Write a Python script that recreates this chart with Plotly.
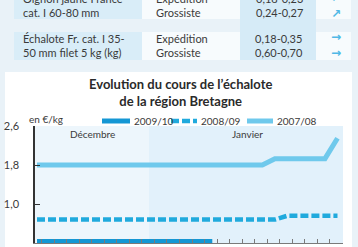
import plotly.graph_objects as go

# ---------------- data ----------------
products = ["Oignon jaune France<br>cat. I 60-80 mm",
            "Échalote Fr. cat. I 35-<br>50 mm filet 5 kg (kg)"]
stages = ["Expédition<br>Grossiste", "Expédition<br>Grossiste"]
prices = ["0,18-0,23<br>0,24-0,27", "0,18-0,35<br>0,60-0,70"]
trends = ["↗<br>↗", "→<br>→"]

series_names = ["2009/10", "2008/09", "2007/08"]
days_0910 = [0, 1, 2, 3, 4, 5, 6, 7, 8, 9, 10, 11, 12, 13, 14]
vals_0910 = [0.23, 0.23, 0.23, 0.23, 0.23, 0.23, 0.23, 0.23, 0.23, 0.23,
             0.23, 0.23, 0.23, 0.23, 0.23]
days_0809 = [0, 1, 2, 3, 4, 5, 6, 7, 8, 9, 10, 11, 12, 13, 14, 15, 16, 17,
             18, 19, 20, 21, 22, 23, 24]
vals_0809 = [0.68, 0.68, 0.68, 0.68, 0.68, 0.68, 0.68, 0.68, 0.68, 0.68,
             0.68, 0.68, 0.68, 0.68, 0.68, 0.68, 0.68, 0.68, 0.68, 0.68,
             0.76, 0.76, 0.76, 0.76, 0.76]
days_0708 = [0, 1, 2, 3, 4, 5, 6, 7, 8, 9, 10, 11, 12, 13, 14, 15, 16, 17,
             18, 19, 20, 21, 22, 23, 24]
vals_0708 = [1.8, 1.8, 1.8, 1.8, 1.8, 1.8, 1.8, 1.8, 1.8, 1.8,
             1.8, 1.8, 1.8, 1.8, 1.8, 1.8, 1.8, 1.8, 1.8, 1.93,
             1.93, 1.93, 1.93, 1.93, 2.35]
month_labels = ["Décembre", "Janvier"]
month_starts = [-0.16, 8.95]
x_end = 24.44
y_ticks = [0.2, 1.0, 1.8, 2.6]

# ---------------- geometry helpers ----------------
W, H = 358, 247
L, R, T, B = 35, 15, 126, 4
PW, PH = W - L - R, H - T - B


def px(x):
    return (x - L) / PW


def py(y):
    return (H - B - y) / PH


FONT = "Lato, 'Open Sans', sans-serif"
TXT = "#3a3a3a"

fig = go.Figure()

colors = ["#1597d4", "#20aadd", "#6fc9ec"]
widths = [5, 4.5, 5]
dashes = ["solid", "8px,3px", "solid"]
xs = [days_0910, days_0809, days_0708]
ys = [vals_0910, vals_0809, vals_0708]
for i in range(3):
    fig.add_trace(go.Scatter(
        x=xs[i], y=ys[i], mode="lines", name=series_names[i],
        line=dict(color=colors[i], width=widths[i], dash=dashes[i]),
        showlegend=False, hoverinfo="skip"))

shapes = []
# white chart panel
shapes.append(dict(type="rect", xref="paper", yref="paper", layer="below",
                   x0=px(5), x1=px(352), y0=py(72), y1=py(260),
                   fillcolor="#ffffff", line=dict(width=0)))
# plot background (January tone)
shapes.append(dict(type="rect", xref="paper", yref="paper", layer="below",
                   x0=0, x1=1, y0=0, y1=1,
                   fillcolor="#e2f1fb", line=dict(width=0)))
# December band
shapes.append(dict(type="rect", xref="x", yref="paper", layer="below",
                   x0=month_starts[0], x1=month_starts[1], y0=0, y1=1,
                   fillcolor="#edf6fc", line=dict(width=0)))

# table
row_tops = [-12, 32]
row_bots = [19, 60]
col_edges = [14, 142, 240, 316, 351]
cell_colors = ["#d9edf8", "#f7fbfd", None, "#f7fbfd"]
shapes.append(dict(type="rect", xref="paper", yref="paper", layer="below",
                   x0=px(col_edges[2]), x1=px(col_edges[3]),
                   y0=py(row_bots[1]), y1=py(row_tops[0]),
                   fillcolor="#d6ebf7", line=dict(width=0)))
for r in range(2):
    for c in range(4):
        if cell_colors[c] is None:
            continue
        shapes.append(dict(type="rect", xref="paper", yref="paper",
                           layer="below",
                           x0=px(col_edges[c]), x1=px(col_edges[c + 1]),
                           y0=py(row_bots[r]), y1=py(row_tops[r]),
                           fillcolor=cell_colors[c], line=dict(width=0)))

annotations = []
row_centers = [5.5, 45]
for r in range(2):
    yc = py(row_centers[r])
    annotations.append(dict(text=products[r], x=px(21), y=yc, xref="paper",
                            yref="paper", xanchor="left", yanchor="middle",
                            align="left", showarrow=False,
                            font=dict(family=FONT, size=11, color=TXT)))
    annotations.append(dict(text=stages[r], x=px(154), y=yc, xref="paper",
                            yref="paper", xanchor="left", yanchor="middle",
                            align="left", showarrow=False,
                            font=dict(family=FONT, size=11, color=TXT)))
    annotations.append(dict(text=prices[r], x=px(279), y=yc, xref="paper",
                            yref="paper", xanchor="center", yanchor="middle",
                            align="center", showarrow=False,
                            font=dict(family=FONT, size=11, color=TXT)))
    annotations.append(dict(text="<b>" + trends[r] + "</b>", x=px(336), y=yc,
                            xref="paper", yref="paper", xanchor="center",
                            yanchor="middle", align="center", showarrow=False,
                            font=dict(family="DejaVu Sans", size=12,
                                      color="#4fb8e6")))

# chart title
annotations.append(dict(text="<b>Evolution du cours de l’échalote<br>de la région Bretagne</b>",
                        x=px(180), y=py(93), xref="paper", yref="paper",
                        xanchor="center", yanchor="middle", showarrow=False,
                        font=dict(family=FONT, size=13, color="#2a2a2a")))
# unit
annotations.append(dict(text="en €/kg", x=px(27), y=py(119), xref="paper",
                        yref="paper", xanchor="left", yanchor="middle",
                        showarrow=False,
                        font=dict(family=FONT, size=10, color=TXT)))
# month labels
month_centers = [92, 247]
for m in range(2):
    annotations.append(dict(text=month_labels[m], x=px(month_centers[m]),
                            y=py(134), xref="paper", yref="paper",
                            xanchor="center", yanchor="middle",
                            showarrow=False,
                            font=dict(family=FONT, size=10, color=TXT)))

# legend (manual, built from the series names / styles)
leg_sample_x = [(102, 130), (171, 197), (247, 273)]
leg_y = 121
for i in range(3):
    x0, x1 = leg_sample_x[i]
    shapes.append(dict(type="line", xref="paper", yref="paper", layer="above",
                       x0=px(x0), x1=px(x1), y0=py(leg_y), y1=py(leg_y),
                       line=dict(color=colors[i], width=widths[i],
                                 dash=dashes[i])))
    annotations.append(dict(text=series_names[i], x=px(x1 + 2), y=py(leg_y),
                            xref="paper", yref="paper", xanchor="left",
                            yanchor="middle", showarrow=False,
                            font=dict(family=FONT, size=10, color=TXT)))

fig.update_layout(
    width=W, height=H,
    margin=dict(l=L, r=R, t=T, b=B, pad=0),
    paper_bgcolor="#e9f2f8",
    plot_bgcolor="rgba(0,0,0,0)",
    separators=", ",
    shapes=shapes,
    annotations=annotations,
    showlegend=False,
)
fig.update_xaxes(range=[month_starts[0], x_end], showgrid=False,
                 zeroline=False, showline=True, linecolor="#7a7a7a",
                 linewidth=1, ticks="inside", ticklen=4, tickcolor="#7a7a7a",
                 tick0=0.38, dtick=1, showticklabels=False)
fig.update_yaxes(range=[0.2, 2.6], showgrid=False, zeroline=False,
                 showline=True, linecolor="#333333", linewidth=1.5,
                 ticks="inside", ticklen=5, tickcolor="#333333",
                 tickvals=y_ticks, tickformat=".1f",
                 ticklabelstandoff=12,
                 tickfont=dict(family=FONT, size=11, color=TXT))

fig.write_html("out.html")
